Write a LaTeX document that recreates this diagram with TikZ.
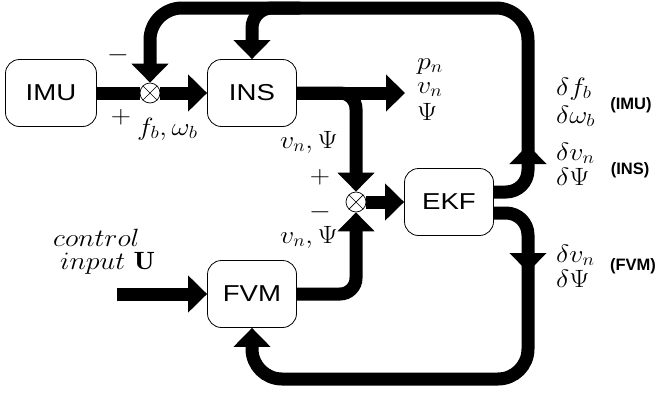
\RequirePackage{fix-cm}
\documentclass[tikz,border=0pt]{standalone}
\usepackage{fontspec}
\usetikzlibrary{arrows.meta}
\newfontfamily\hv[FakeStretch=1.2]{Liberation Sans}
\newfontfamily\hvtag{Liberation Sans}

\tikzset{
  blk/.style={draw, rounded corners=14pt, line width=0.8pt, fill=white,
    minimum width=89pt, minimum height=67pt, inner sep=0pt,
    font=\hv\fontsize{23}{23}\selectfont},
  junc/.style={circle, draw, fill=white, line width=0.7pt, minimum size=20pt,
    inner sep=0pt,
    path picture={\draw[line width=0.7pt]
      (path picture bounding box.north west) -- (path picture bounding box.south east)
      (path picture bounding box.north east) -- (path picture bounding box.south west);}},
  flow/.style={line width=13pt},
  arr/.style={flow, -{Triangle[length=19pt, width=36pt]}},
  lbl/.style={font=\fontsize{25}{25}\selectfont, xscale=1.12, transform shape, inner sep=0pt},
  tag/.style={font=\hvtag\bfseries\fontsize{16.5}{16.5}\selectfont, inner sep=0pt},
}

\begin{document}
\begin{tikzpicture}[x=1pt, y=-1pt]
  \useasboundingbox (0,0) rectangle (657,394);
  \fill[white] (0,0) rectangle (657,394);

  % blocks
  \node[blk, minimum width=91pt] (imu) at (51,93) {IMU};
  \node[blk] (ins) at (252,93) {INS};
  \node[blk] (fvm) at (252,294) {FVM};
  \node[blk] (ekf) at (449,202) {EKF};

  % summing junctions
  \node[junc] (s1) at (150,93) {};
  \node[junc] (s2) at (356,202) {};

  % free ends and corners of the loops
  \coordinate (out)    at (405,93);
  \coordinate (ctl)    at (117,294);
  \coordinate (topL)   at (150,8);
  \coordinate (topM)   at (300,8);
  \coordinate (upmark) at (528,145);
  \coordinate (upjoin) at (528,160);
  \coordinate (dnmark) at (528,272);
  \coordinate (dnjoin) at (528,255);
  \coordinate (botL)   at (252,379);

  % forward path
  \draw[flow] (imu.east) -- (s1.west);
  \draw[arr] (s1.east) -- (ins.west);
  \draw[arr] (ins.east) -- (out);
  \draw[arr, rounded corners=16pt] (ins.east) -| (s2.north);
  \draw[arr] (s2.east) -- (ekf.west);
  \draw[arr, rounded corners=16pt] (fvm.east) -| (s2.south);
  \draw[arr] (ctl) -- (fvm.west);

  % EKF corrections fed back to IMU / INS
  \draw[arr, rounded corners=22pt] ([yshift=10pt]ekf.east) -| (upmark);
  \draw[arr, rounded corners=32pt] (upjoin) |- (topL) -- (s1.north);
  \draw[arr, rounded corners=20pt] (topM) -| (ins.north);

  % EKF corrections fed back to FVM
  \draw[arr, rounded corners=22pt] ([yshift=-11pt]ekf.east) -| (dnmark);
  \draw[arr, rounded corners=30pt] (dnjoin) |- (botL) -- (fvm.south);

  % signal labels
  \node[lbl] (m1) at (118,55) {$-$};
  \node[lbl] (p1) at (121,117) {$+$};
  \node[lbl, anchor=base west] (fw) at (137,135) {$f_b,\omega_b$};

  \node[lbl, anchor=base west] (o1) at (417,69) {$p_n$};
  \node[lbl, anchor=base west] (o2) at (417,93) {$v_n$};
  \node[lbl, anchor=base west] (o3) at (417,120) {$\Psi$};

  \node[lbl, anchor=base east] (vi) at (338,148) {$v_n,\Psi$};
  \node[lbl] (p2) at (320,177) {$+$};
  \node[lbl] (m2) at (320,212) {$-$};
  \node[lbl, anchor=base east] (vf) at (338,243) {$v_n,\Psi$};

  \node[lbl, anchor=base west] (c1) at (53,246) {$control$};
  \node[lbl, anchor=base west] (c2) at (60,269) {$input\ \mathbf{U}$};

  \node[lbl, anchor=base west] (d1) at (556,95) {$\delta f_b$};
  \node[lbl, anchor=base west] (d2) at (556,123) {$\delta\omega_b$};
  \node[tag] (t1) at (631,105) {(IMU)};
  \node[lbl, anchor=base west] (d3) at (556,160) {$\delta v_n$};
  \node[lbl, anchor=base west] (d4) at (556,185) {$\delta\Psi$};
  \node[tag] (t2) at (630,170) {(INS)};
  \node[lbl, anchor=base west] (d5) at (556,262) {$\delta v_n$};
  \node[lbl, anchor=base west] (d6) at (556,287) {$\delta\Psi$};
  \node[tag] (t3) at (633,266) {(FVM)};
\end{tikzpicture}
\end{document}
